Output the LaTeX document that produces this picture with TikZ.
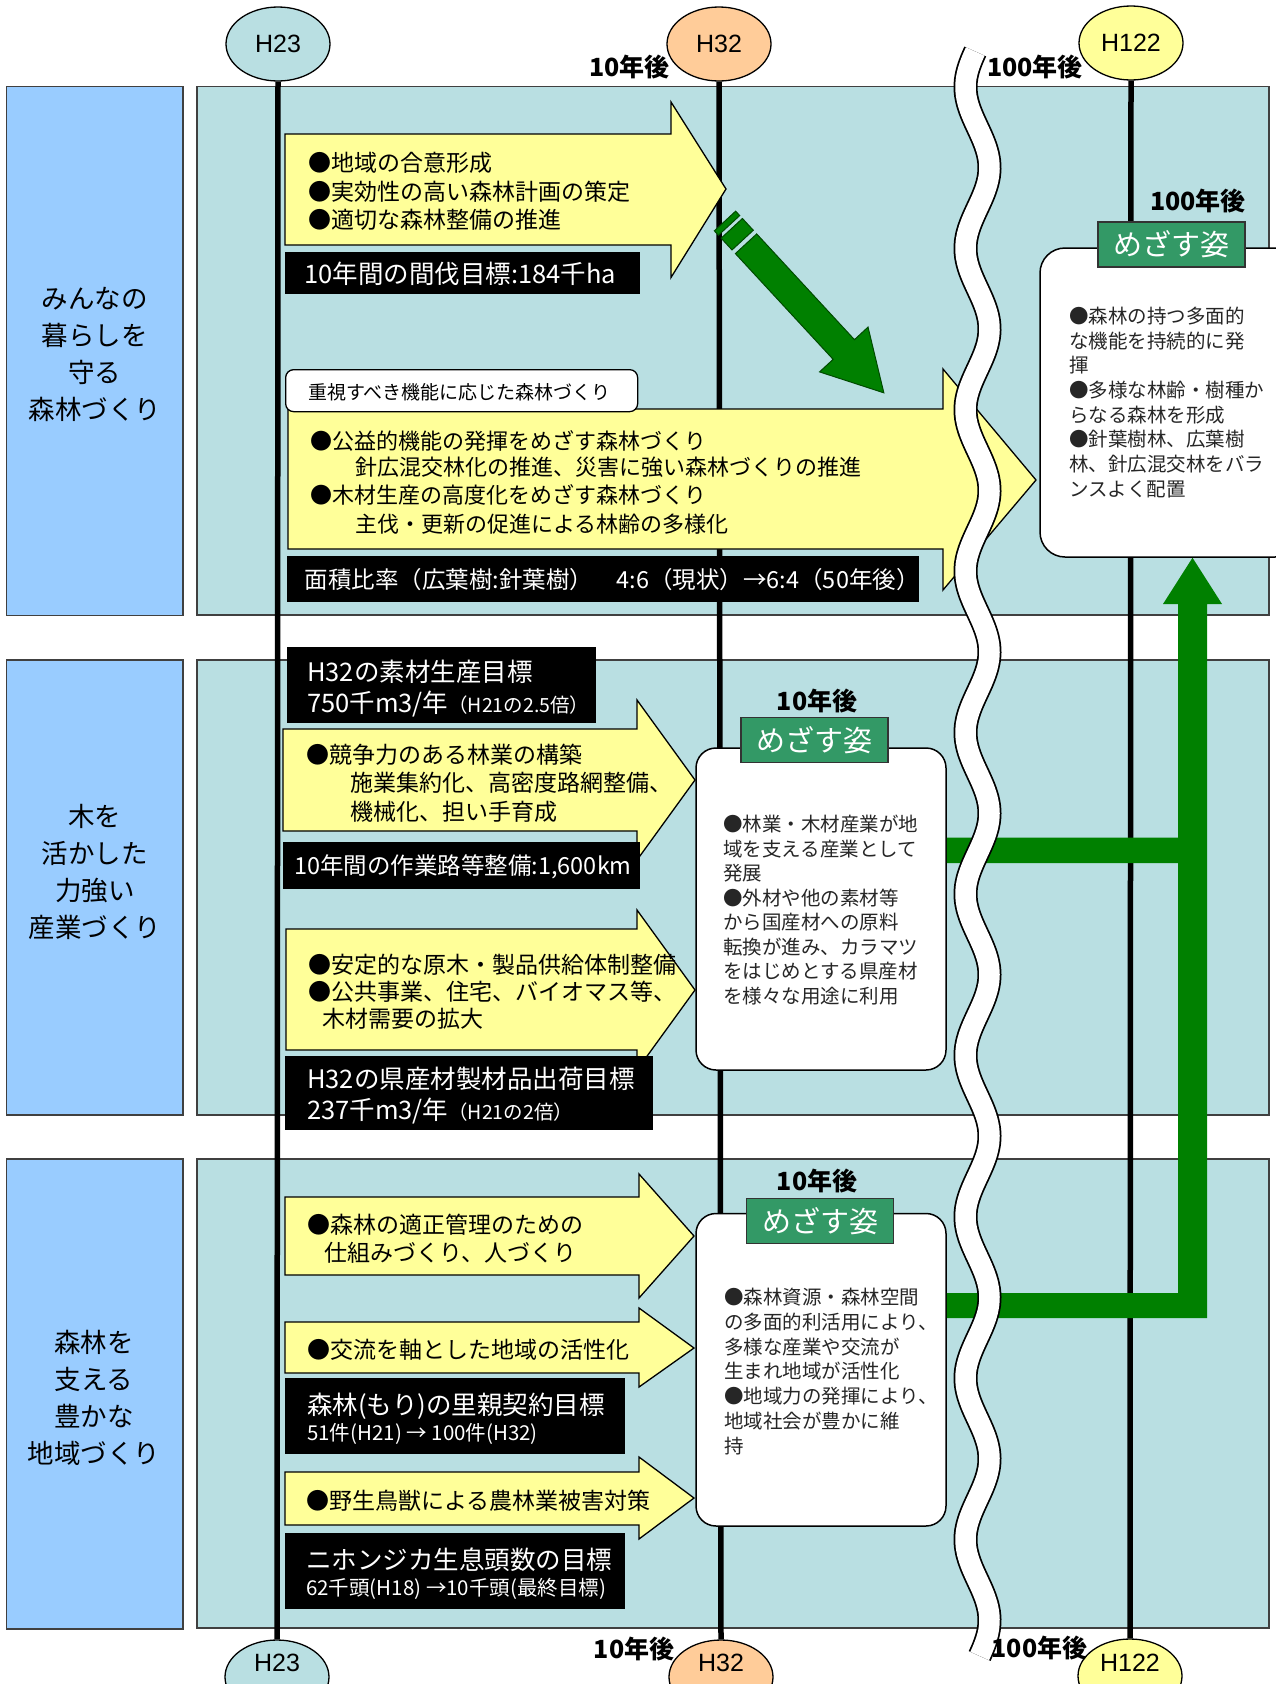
\documentclass[tikz,border=0pt]{standalone}
\usepackage{fontspec}
\setmainfont{Liberation Sans}
\newfontfamily\jp{Noto Sans CJK JP}
\usetikzlibrary{shapes.geometric}
\newcommand\jfs[1]{\fontsize{#1}{#1}\selectfont}
\definecolor{lblue}{HTML}{99CCFF}
\definecolor{tealbg}{HTML}{B9DFE2}
\definecolor{yel}{HTML}{FFFF99}
\definecolor{peach}{HTML}{FFCC99}
\definecolor{dgreen}{HTML}{008000}
\definecolor{mgreen}{HTML}{339966}
\definecolor{gedge}{HTML}{004A00}
\newcommand\yarrowshape[8]{\draw[yarrow] (#1,#2) -- (#4,#2) -- (#4,#5) -- (#6,#7) -- (#4,#8) -- (#4,#3) -- (#1,#3) -- cycle;}
\begin{document}
\begin{tikzpicture}[x=1pt,y=-1pt,
  panelb/.style={fill=lblue, draw=black!75, line width=1.5},
  panelt/.style={fill=tealbg, draw=black!75, line width=1.5},
  yarrow/.style={fill=yel, draw=black, line width=1.3, line join=miter},
  kbox/.style={fill=black, draw=black, inner sep=0, anchor=north west},
  tline/.style={line width=5.5, draw=black},
  hcirc/.style={ellipse, draw=black, line width=1.3, minimum width=104, minimum height=74, inner sep=0, font=\jfs{25}},
  htxt/.style={inner sep=0, font=\jfs{25}},
  jt/.style={font={\jp\jfs{23}}, anchor=base west, inner sep=0},
  jts/.style={font={\jp\jfs{22}}, anchor=base west, inner sep=0},
  wt/.style={font={\jp\jfs{25.5}}, text=white, anchor=base west, inner sep=0},
  wtn/.style={font={\jp\jfs{23.5}}, text=white, anchor=base west, inner sep=0},
  wts/.style={font={\jp\jfs{20.5}}, text=white, anchor=base west, inner sep=0},
  bt/.style={font={\jp\jfs{19.5}}, text=black!85, anchor=base west, inner sep=0},
  lab/.style={font={\jp\bfseries\jfs{25}}, inner sep=0},
  side/.style={font={\jp\fontsize{26.5}{37}\selectfont}, align=center, inner sep=0},
  wbox/.style={draw=black, line width=1.5, fill=white, rounded corners=25, inner sep=0},
  mlab/.style={fill=mgreen, draw=black!80, line width=1.5, minimum width=147, minimum height=45, inner sep=0, text=white, font={\jp\jfs{29}}},
  garr/.style={fill=dgreen, draw=gedge, line width=1}
]
\useasboundingbox (0,0) rectangle (1276,1684);
\clip (0,0) rectangle (1276,1684);
\fill[white] (0,0) rectangle (1276,1684);

% panels
\draw[panelb] (6.5,86.5) rectangle (183,615.5);
\draw[panelt] (197,86.5) rectangle (1269,615);
\draw[panelb] (6.5,660) rectangle (183,1115);
\draw[panelt] (197,660) rectangle (1269,1115);
\draw[panelb] (6.5,1159) rectangle (183,1629);
\draw[panelt] (197,1159) rectangle (1269,1628);

% side labels
\node[side] (s1) at (95,354) {みんなの\\暮らしを\\守る\\森林づくり};
\node[side] (s2) at (95,872) {木を\\活かした\\力強い\\産業づくり};
\node[side] (s3) at (94,1398) {森林を\\支える\\豊かな\\地域づくり};

% ellipses
\node[hcirc, fill=tealbg] (et1) at (278,44) {H23};
\node[hcirc, fill=peach] (et2) at (719,44) {H32};
\node[hcirc, fill=yel] (et3) at (1131,43) {H122};
\node[hcirc, fill=tealbg] (eb1) at (277,1677) {};
\node[hcirc, fill=peach] (eb2) at (721,1677) {};
\node[hcirc, fill=yel] (eb3) at (1130,1676) {};
\node[htxt] (eb1t) at (277,1663) {H23};
\node[htxt] (eb2t) at (721,1663) {H32};
\node[htxt] (eb3t) at (1130,1663) {H122};

% time lines
\draw[tline] (et1.south) -- (eb1.north);
\draw[tline] (et2.south) -- (eb2.north);
\draw[tline] (et3.south) -- (eb3.north);

% ---------- section 1
\yarrowshape{285}{134}{245}{671}{102}{726}{189}{277.5}
\node[jt] (a1a) at (308,163+8.7) {●地域の合意形成};
\node[jt] (a1b) at (308,192+8.7) {●実効性の高い森林計画の策定};
\node[jt] (a1c) at (308,220+8.7) {●適切な森林整備の推進};
\node[kbox, minimum width=354, minimum height=41] (k1) at (285,252) {};
\node[wt] (k1t) at (304,273.5+9.7) {10年間の間伐目標:184千ha};

\yarrowshape{288}{409}{549}{943}{369}{1036}{480}{590}
\node[draw=black, line width=1.3, fill=white, rounded corners=8, minimum width=352, minimum height=42, anchor=north west, inner sep=0] (wl) at (285,369) {};
\node[font={\jp\jfs{19}}, anchor=base west, inner sep=0] (wlt) at (308,392.6+7.2) {重視すべき機能に応じた森林づくり};
\node[jts] (a2a) at (310,441+8.4) {●公益的機能の発揮をめざす森林づくり};
\node[jts] (a2b) at (355,467+8.4) {針広混交林化の推進、災害に強い森林づくりの推進};
\node[jts] (a2c) at (310,495+8.4) {●木材生産の高度化をめざす森林づくり};
\node[jts] (a2d) at (355,524+8.4) {主伐・更新の促進による林齢の多様化};
\node[kbox, minimum width=631, minimum height=45] (k2) at (287,556) {};
\node[wtn] (k2t) at (304.5,579.6+8.9) {面積比率（広葉樹:針葉樹）　4:6（現状）→6:4（50年後）};

% ---------- section 2
\node[kbox, minimum width=308.5, minimum height=75] (k3) at (286.5,647) {};
\node[wt] (k3a) at (307,672+9.7) {H32の素材生産目標};
\node[wt] (k3b) at (307,703+9.7) {750千m3/年{\jfs{19.5}（H21の2.5倍）}};
\yarrowshape{283}{729}{831}{637}{700}{695}{780}{860}
\node[jt] (a3a) at (306,755+8.7) {●競争力のある林業の構築};
\node[jt] (a3b) at (350,783+8.7) {施業集約化、高密度路網整備、};
\node[jt] (a3c) at (350,812+8.7) {機械化、担い手育成};
\node[kbox, minimum width=356, minimum height=46] (k4) at (283,842) {};
\node[wtn] (k4t) at (294,866+8.9) {10年間の作業路等整備:1,600km};
\yarrowshape{286}{929}{1050}{637}{910}{695}{990}{1070}
\node[jt] (a4a) at (308,965+8.7) {●安定的な原木・製品供給体制整備};
\node[jt] (a4b) at (308,992+8.7) {●公共事業、住宅、バイオマス等、};
\node[jt] (a4c) at (322,1019+8.7) {木材需要の拡大};
\node[kbox, minimum width=367.5, minimum height=73.5] (k5) at (284.5,1055.5) {};
\node[wt] (k5a) at (307,1079+9.7) {H32の県産材製材品出荷目標};
\node[wt] (k5b) at (307,1110+9.7) {237千m3/年{\jfs{19.5}（H21の2倍）}};

% ---------- section 3
\yarrowshape{285}{1197}{1275}{639}{1174}{694}{1236}{1298}
\node[jt] (a5a) at (307.6,1225+8.7) {●森林の適正管理のための};
\node[jt] (a5b) at (324,1253+8.7) {仕組みづくり、人づくり};
\yarrowshape{285}{1322}{1373}{639}{1308}{694}{1348}{1387}
\node[jt] (a6a) at (307,1350+8.7) {●交流を軸とした地域の活性化};
\node[kbox, minimum width=339, minimum height=75] (k6) at (285,1378) {};
\node[wt] (k6a) at (307,1405+9.7) {森林(もり)の里親契約目標};
\node[wts] (k6b) at (307,1432.7+7.8) {51件(H21) → 100件(H32)};
\yarrowshape{285}{1472}{1525}{639}{1457}{694}{1498}{1539}
\node[jt] (a7a) at (306,1501+8.7) {●野生鳥獣による農林業被害対策};
\node[kbox, minimum width=339, minimum height=75] (k7) at (285,1533) {};
\node[wt] (k7a) at (306,1560+9.7) {ニホンジカ生息頭数の目標};
\node[wts] (k7b) at (306,1588+7.8) {62千頭(H18) →10千頭(最終目標)};

% ---------- green diagonal arrow
\begin{scope}[shift={(725,221)}, rotate=-47.25]
  \filldraw[garr] (0,-14.5) rectangle (6,14.5);
  \filldraw[garr] (10,-14.5) rectangle (26,14.5);
  \filldraw[garr] (31,-14.5) -- (175,-14.5) -- (175,-33) -- (234,0) -- (175,33) -- (175,14.5) -- (31,14.5) -- cycle;
\end{scope}

% ---------- goal boxes
\node[wbox, minimum width=260, minimum height=309] (m1) at (1170,402.5) {};
\node[wbox, minimum width=250, minimum height=322, rounded corners=20] (m2) at (821,909) {};
\node[wbox, minimum width=250, minimum height=312.5, rounded corners=20] (m3) at (821,1369.75) {};
\node[mlab] (g1) at (1171.5,244.5) {めざす姿};
\node[mlab] (g2) at (814.5,740) {めざす姿};
\node[mlab] (g3) at (820,1221) {めざす姿};
\node[lab] (y1) at (1198,201) {100年後};
\node[lab] (y2) at (817,701) {10年後};
\node[lab] (y3) at (817,1181) {10年後};

\foreach \t [count=\i from 0] in {●森林の持つ多面的,な機能を持続的に発,揮,●多様な林齢・樹種か,らなる森林を形成,●針葉樹林、広葉樹,林、針広混交林をバラ,ンスよく配置}
  \node[bt] (m1t\i) at (1069,316+7.4+24.7*\i) {\t};
\foreach \t [count=\i from 0] in {●林業・木材産業が地,域を支える産業として,発展,●外材や他の素材等,から国産材への原料,転換が進み、カラマツ,をはじめとする県産材,を様々な用途に利用}
  \node[bt] (m2t\i) at (723,824.5+7.4+24.5*\i) {\t};
\foreach \t [count=\i from 0] in {●森林資源・森林空間,の多面的利活用により、,多様な産業や交流が,生まれ地域が活性化,●地域力の発揮により、,地域社会が豊かに維,持}
  \node[bt] (m3t\i) at (724,1297+7.4+24.8*\i) {\t};

% ---------- green connector to the 100-year goal
\fill[dgreen] (m2.east |- 0,837.5) -- (1178,837.5) -- (1178,604) -- (1163,604) -- (m1.south -| 1192.5,0) -- (1222,604) -- (1207,604) -- (1207,1318) -- (m3.east |- 0,1318) -- (m3.east |- 0,1293) -- (1178,1293) -- (1178,863) -- (m2.east |- 0,863) -- cycle;

% ---------- wave break
\draw[line width=24, black, line cap=butt] plot[domain=51.5:1656, samples=220, smooth] ({977.5-12*cos((\x-87)*2.23048)}, \x);
\draw[line width=20.5, white, line cap=butt] plot[domain=51.5:1656, samples=220, smooth] ({977.5-12*cos((\x-87)*2.23048)}, \x);

% ---------- time labels
\node[lab] (t10a) at (629.5,67) {10年後};
\node[lab] (t100a) at (1035,67) {100年後};
\node[lab] (t10b) at (634,1649) {10年後};
\node[lab] (t100b) at (1039.5,1648) {100年後};
\end{tikzpicture}
\end{document}
